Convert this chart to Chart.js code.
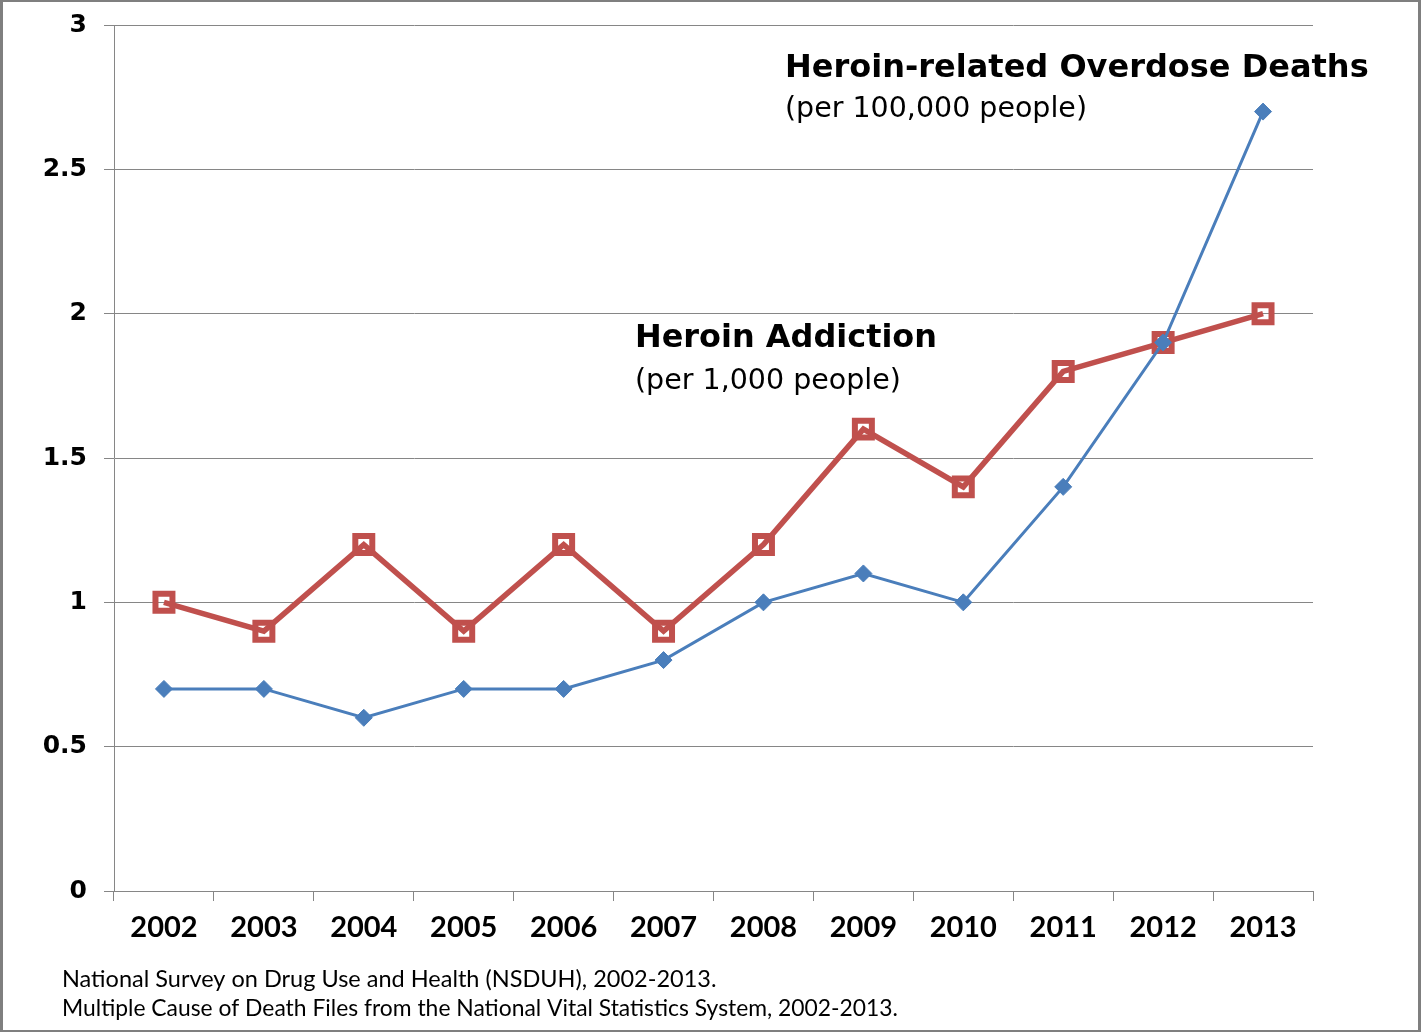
<!DOCTYPE html>
<html>
<head>
<meta charset="utf-8">
<script src="https://cdn.jsdelivr.net/npm/chart.js@4/dist/chart.umd.min.js"></script>
<style>
  html, body { margin: 0; padding: 0; background: #fff; }
  #wrap { width: 1421px; height: 1032px; }
</style>
</head>
<body>
<div id="wrap"><canvas id="chart" width="1421" height="1032"></canvas></div>
<script>
const years = ['2002', '2003', '2004', '2005', '2006', '2007', '2008', '2009', '2010', '2011', '2012', '2013']
const overdoseDeaths = [0.7, 0.7, 0.6, 0.7, 0.7, 0.8, 1.0, 1.1, 1.0, 1.4, 1.9, 2.7]
const addiction = [1.0, 0.9, 1.2, 0.9, 1.2, 0.9, 1.2, 1.6, 1.4, 1.8, 1.9, 2.0]
const yTicks = [0, 0.5, 1, 1.5, 2, 2.5, 3]

const sources = [
  'National Survey on Drug Use and Health (NSDUH), 2002-2013.',
  'Multiple Cause of Death Files from the National Vital Statistics System, 2002-2013.',
]

const gridColor = '#868686'
const blue = '#4A7EBB'
const red = '#C0504D'

// white page + the thin grey frame round the picture
const frame = {
  id: 'frame',
  beforeDraw(chart) {
    const { ctx, width, height } = chart
    ctx.save()
    ctx.fillStyle = '#fff'
    ctx.fillRect(0, 0, width, height)
    ctx.fillStyle = '#7f7f7f'
    ctx.fillRect(0, 0, width, 2)
    ctx.fillRect(0, height - 2, width, 2)
    ctx.fillRect(0, 0, 3, height)
    ctx.fillRect(width - 3, 0, 3, height)
    ctx.restore()
  },
}

// series labels inside the plot and the source notes under it
const notes = {
  id: 'notes',
  afterDraw(chart) {
    const { ctx } = chart
    ctx.save()
    ctx.fillStyle = '#000'
    ctx.textAlign = 'left'
    ctx.textBaseline = 'alphabetic'

    ctx.font = 'bold 32px "DejaVu Sans"'
    ctx.fillText('Heroin-related Overdose Deaths', 785, 77, 588)
    ctx.font = '28.5px "DejaVu Sans"'
    ctx.fillText('(per 100,000 people)', 785, 117, 302)

    ctx.font = 'bold 32px "DejaVu Sans"'
    ctx.fillText('Heroin Addiction', 635, 347, 302)
    ctx.font = '28.5px "DejaVu Sans"'
    ctx.fillText('(per 1,000 people)', 635, 389, 266)

    // source lines squeezed to the widths they take in the original
    const maxWidths = [655, 836]
    ctx.font = '23.5px Lato'
    sources.forEach((line, i) => {
      ctx.fillText(line, 62, 987 + i * 29, maxWidths[i])
    })
    ctx.restore()
  },
}

const config = {
  type: 'line',
  data: {
    labels: years,
    datasets: [
      {
        label: 'Heroin-related Overdose Deaths',
        data: overdoseDeaths,
        order: 0,
        borderColor: blue,
        borderWidth: 3,
        pointStyle: 'rectRot',
        pointRadius: 8.5,
        pointBorderWidth: 1,
        pointBackgroundColor: blue,
        pointBorderColor: blue,
        tension: 0,
      },
      {
        label: 'Heroin Addiction',
        data: addiction,
        order: 1,
        borderColor: red,
        borderWidth: 5.5,
        pointStyle: 'rect',
        pointRadius: 12,
        pointBorderWidth: 6,
        pointBackgroundColor: 'rgba(255, 255, 255, 0)',
        pointBorderColor: red,
        tension: 0,
      },
    ],
  },
  options: {
    responsive: false,
    animation: false,
    devicePixelRatio: 1,
    layout: {
      padding: { left: 0, top: 25, right: 108, bottom: 81 },
    },
    scales: {
      x: {
        type: 'category',
        offset: true,
        afterFit: (scale) => {
          scale.height = 60
          scale.paddingLeft = 0
          scale.paddingRight = 0
        },
        grid: {
          offset: true,
          drawOnChartArea: false,
          drawTicks: true,
          tickLength: 10,
          color: gridColor,
        },
        border: { display: true, color: gridColor, width: 1 },
        ticks: {
          color: '#000',
          padding: 9,
          maxRotation: 0,
          font: { family: 'Lato', size: 29, weight: 'bold' },
        },
      },
      y: {
        type: 'linear',
        min: 0,
        max: 3,
        afterFit: (scale) => {
          scale.width = 114
          scale.paddingTop = 0
          scale.paddingBottom = 0
        },
        afterBuildTicks: (scale) => { scale.ticks = yTicks.map((value) => ({ value })) },
        grid: {
          drawTicks: true,
          tickLength: 10,
          color: gridColor,
        },
        border: { display: true, color: gridColor, width: 1 },
        ticks: {
          color: '#000',
          padding: 17,
          callback: (value) => String(value),
          font: { family: 'DejaVu Sans', size: 25, weight: 'bold' },
        },
      },
    },
    plugins: {
      legend: { display: false },
      tooltip: { enabled: false },
    },
  },
  plugins: [frame, notes],
}

new Chart(document.getElementById('chart'), config)
</script>
</body>
</html>
